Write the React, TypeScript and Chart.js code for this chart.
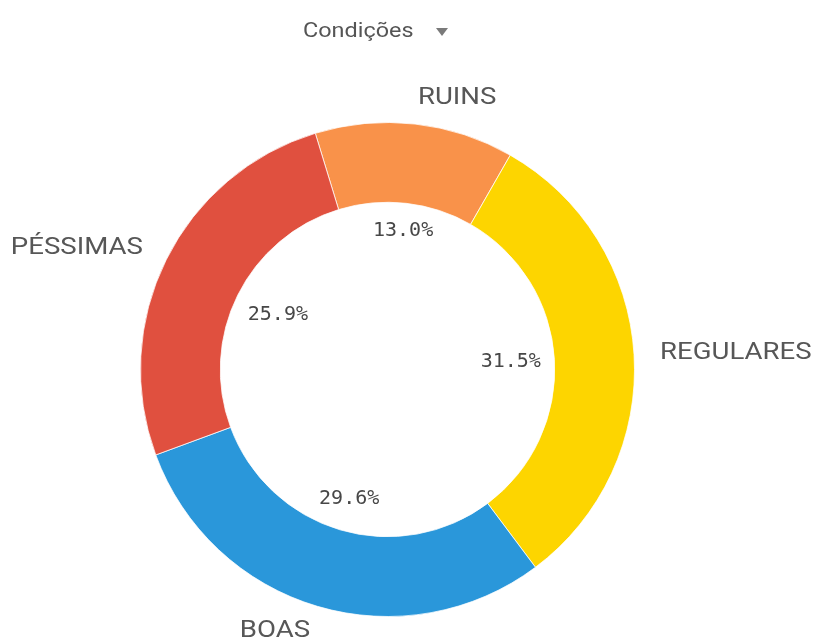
import React, { useEffect, useRef } from "react";
import { Chart, registerables } from "chart.js";

Chart.register(...registerables);

const categories = ["RUINS", "REGULARES", "BOAS", "PÉSSIMAS"];
const values = [13.0, 31.5, 29.6, 25.9];
const percentLabels = ["13.0%", "31.5%", "29.6%", "25.9%"];
const colors = ["#F9924A", "#FDD500", "#2A97DA", "#E0503F"];
const titleText = "Condições";

const SANS = "Roboto, 'Open Sans', sans-serif";
const MONO = "'DejaVu Sans Mono', 'Liberation Mono', monospace";
const X_STRETCH = 1.2;

function drawStretched(ctx: CanvasRenderingContext2D, text: string, x: number, y: number) {
  ctx.save();
  ctx.translate(x, y);
  ctx.scale(X_STRETCH, 1);
  ctx.fillText(text, 0, 0);
  ctx.restore();
}

const labelPlugin = {
  id: "donutLabels",
  afterDatasetsDraw(chart: any) {
    const ctx: CanvasRenderingContext2D = chart.ctx;
    const meta = chart.getDatasetMeta(0);
    meta.data.forEach((arc: any, i: number) => {
      const p = arc.getProps(["x", "y", "startAngle", "endAngle", "innerRadius", "outerRadius"], true);
      const mid = (p.startAngle + p.endAngle) / 2;
      const c = Math.cos(mid);
      const s = Math.sin(mid);

      // category label outside
      ctx.save();
      ctx.font = `23px ${SANS}`;
      ctx.fillStyle = "#575757";
      ctx.textBaseline = "middle";
      ctx.textAlign = c >= 0 ? "left" : "right";
      const lr = p.outerRadius + 26;
      drawStretched(ctx, categories[i], p.x + c * lr, p.y + s * lr);
      ctx.restore();

      // percentage label inside the hole
      ctx.save();
      ctx.font = `20px ${MONO}`;
      ctx.fillStyle = "#474747";
      ctx.textBaseline = "middle";
      ctx.textAlign = "center";
      const w = ctx.measureText(percentLabels[i]).width / 2;
      const h = 11;
      const d = p.innerRadius - 13 - (w * Math.abs(c) + h * Math.abs(s));
      ctx.fillText(percentLabels[i], p.x + c * d, p.y + s * d);
      ctx.restore();
    });

    // title
    ctx.save();
    ctx.font = `19.5px ${SANS}`;
    ctx.fillStyle = "#555555";
    ctx.textBaseline = "middle";
    ctx.textAlign = "left";
    drawStretched(ctx, titleText, 303, 32);
    ctx.beginPath();
    ctx.moveTo(436, 28);
    ctx.lineTo(448, 28);
    ctx.lineTo(442, 36);
    ctx.closePath();
    ctx.fillStyle = "#7a7a7a";
    ctx.fill();
    ctx.restore();
  },
};

export default function App() {
  const ref = useRef<HTMLCanvasElement | null>(null);
  useEffect(() => {
    if (!ref.current) return;
    const chart = new Chart(ref.current, {
      type: "doughnut",
      data: {
        labels: categories,
        datasets: [
          {
            data: values,
            backgroundColor: colors,
            borderColor: "rgba(255,255,255,0.75)",
            borderWidth: 1,
          },
        ],
      },
      options: {
        responsive: false,
        animation: false,
        devicePixelRatio: 1,
        events: [],
        rotation: -17,
        cutout: "67.7%",
        layout: { padding: { left: 140, top: 122, right: 180, bottom: 22 } },
        plugins: {
          legend: { display: false },
          tooltip: { enabled: false },
          title: { display: false },
        },
      },
      plugins: [labelPlugin],
    });
    return () => chart.destroy();
  }, []);
  return (
    <div style={{ position: "absolute", left: 0, top: 0, width: 815, height: 639, background: "#fff" }}>
      <canvas ref={ref} width={815} height={639} style={{ display: "block" }} />
    </div>
  );
}
